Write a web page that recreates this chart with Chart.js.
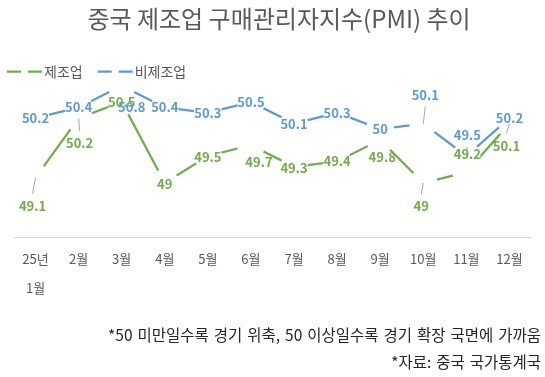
<!DOCTYPE html>
<html>
<head>
<meta charset="utf-8">
<script src="https://cdn.jsdelivr.net/npm/chart.js@4.4.1/dist/chart.umd.min.js"></script>
<style>
  html, body { margin: 0; padding: 0; background: #fff; }
  #wrap { width: 545px; height: 377px; }
</style>
</head>
<body>
<div id="wrap"><canvas id="pmiChart" width="545" height="377"></canvas></div>
<script>
// 데이터
const months = [['25년', '1월'], '2월', '3월', '4월', '5월', '6월', '7월', '8월', '9월', '10월', '11월', '12월'];
const manufacturing = [49.1, 50.2, 50.5, 49.0, 49.5, 49.7, 49.3, 49.4, 49.8, 49.0, 49.2, 50.1];
const nonManufacturing = [50.2, 50.4, 50.8, 50.4, 50.3, 50.5, 50.1, 50.3, 50.0, 50.1, 49.5, 50.2];
const titleText = '중국 제조업 구매관리자지수(PMI) 추이';
const notes = ['*50 미만일수록 경기 위축, 50 이상일수록 경기 확장 국면에 가까움', '*자료: 중국 국가통계국'];

const FONT = "'Noto Sans CJK KR', 'Noto Sans', sans-serif";
const GREEN = '#70AD47';
const BLUE = '#5B9BD5';

// 데이터 레이블 위치 보정 (점 기준 dx, dy) 과 지시선 여부
const labelOffsets = [
  [[-3, 28], [1, 25], [0, 0], [0, 1], [0, 1], [8, 17], [0, 1], [0, 0], [2, 17], [-2, 23], [1, -18], [-3, 22]],
  [[0, 0], [0, 0], [10, 21], [0, 0], [0, 0], [0, 0], [0, 0], [0, 0], [0, 0], [2, -29], [1, -21], [0, 0]]
];
const leaderFlags = [
  [1, 1, 0, 0, 0, 0, 0, 0, 0, 1, 0, 1],
  [0, 0, 0, 0, 0, 0, 0, 0, 0, 1, 1, 0]
];

const pointLabels = {
  id: 'pointLabels',
  afterDatasetsDraw(chart) {
    const ctx = chart.ctx;
    ctx.save();
    ctx.font = 'bold 13px ' + FONT;
    ctx.textAlign = 'center';
    ctx.textBaseline = 'middle';
    chart.data.datasets.forEach((ds, di) => {
      const meta = chart.getDatasetMeta(di);
      meta.data.forEach((pt, i) => {
        const off = labelOffsets[di][i];
        const lx = pt.x + off[0];
        const ly = pt.y + off[1];
        if (leaderFlags[di][i]) {
          const edge = off[1] > 0 ? ly - 12 : ly + 12;
          ctx.strokeStyle = '#A6A6A6';
          ctx.lineWidth = 1;
          ctx.beginPath();
          ctx.moveTo(lx, edge);
          ctx.lineTo(pt.x, pt.y);
          ctx.stroke();
        }
        ctx.fillStyle = ds.borderColor;
        ctx.fillText(String(ds.data[i]), lx, ly);
      });
    });
    ctx.restore();
  }
};

// 제목 + 범례 (선 가운데 마커 자리가 비어 있는 모양)
const headAndLegend = {
  id: 'headAndLegend',
  afterDraw(chart) {
    const ctx = chart.ctx;
    ctx.save();
    ctx.font = '24px ' + FONT;
    ctx.fillStyle = '#595959';
    ctx.textAlign = 'center';
    ctx.textBaseline = 'middle';
    ctx.fillText(titleText, 279, 19);

    ctx.font = '14px ' + FONT;
    ctx.textAlign = 'left';
    let x = 7;
    const y = 71.5;
    chart.data.datasets.forEach(ds => {
      ctx.strokeStyle = ds.borderColor;
      ctx.lineWidth = 2.25;
      ctx.beginPath();
      ctx.moveTo(x, y); ctx.lineTo(x + 14, y);
      ctx.moveTo(x + 21, y); ctx.lineTo(x + 35, y);
      ctx.stroke();
      ctx.fillStyle = '#595959';
      ctx.fillText(ds.label, x + 37, y);
      x += 37 + ctx.measureText(ds.label).width + 15;
    });
    ctx.restore();
  }
};

const footNotes = {
  id: 'footNotes',
  afterDraw(chart) {
    const ctx = chart.ctx;
    ctx.save();
    ctx.font = '15.5px ' + FONT;
    ctx.wordSpacing = '1.5px';
    ctx.fillStyle = '#262626';
    ctx.textAlign = 'right';
    ctx.textBaseline = 'middle';
    ctx.fillText(notes[0], 541, 335);
    ctx.fillText(notes[1], 541, 362);
    ctx.restore();
  }
};

new Chart(document.getElementById('pmiChart').getContext('2d'), {
  type: 'line',
  data: {
    labels: months,
    datasets: [
      {
        label: '제조업',
        data: manufacturing,
        borderColor: GREEN,
        borderWidth: 2.25,
        pointRadius: 14,
        pointHoverRadius: 14,
        pointBorderWidth: 0,
        pointBackgroundColor: '#ffffff',
        tension: 0,
        order: 1,
      },
      {
        label: '비제조업',
        data: nonManufacturing,
        borderColor: BLUE,
        borderWidth: 2.25,
        pointRadius: 14,
        pointHoverRadius: 14,
        pointBorderWidth: 0,
        pointBackgroundColor: '#ffffff',
        tension: 0,
        order: 0,
      },
    ],
  },
  options: {
    responsive: false,
    animation: false,
    layout: { padding: { left: 12, right: 8, top: 75, bottom: 0 } },
    plugins: {
      legend: { display: false },
      tooltip: { enabled: false },
      title: { display: false },
    },
    scales: {
      x: {
        offset: true,
        grid: { display: false, drawTicks: false },
        border: { display: true, color: '#D9D9D9', width: 1 },
        ticks: {
          color: '#595959',
          font: { family: FONT, size: 13, lineHeight: 29 / 13 },
          padding: 8,
          maxRotation: 0,
          autoSkip: false,
        },
        afterFit(scale) { scale.height = 140; },
      },
      y: {
        display: false,
        min: 48,
        max: 51,
      },
    },
  },
  plugins: [pointLabels, headAndLegend, footNotes],
});
</script>
</body>
</html>
